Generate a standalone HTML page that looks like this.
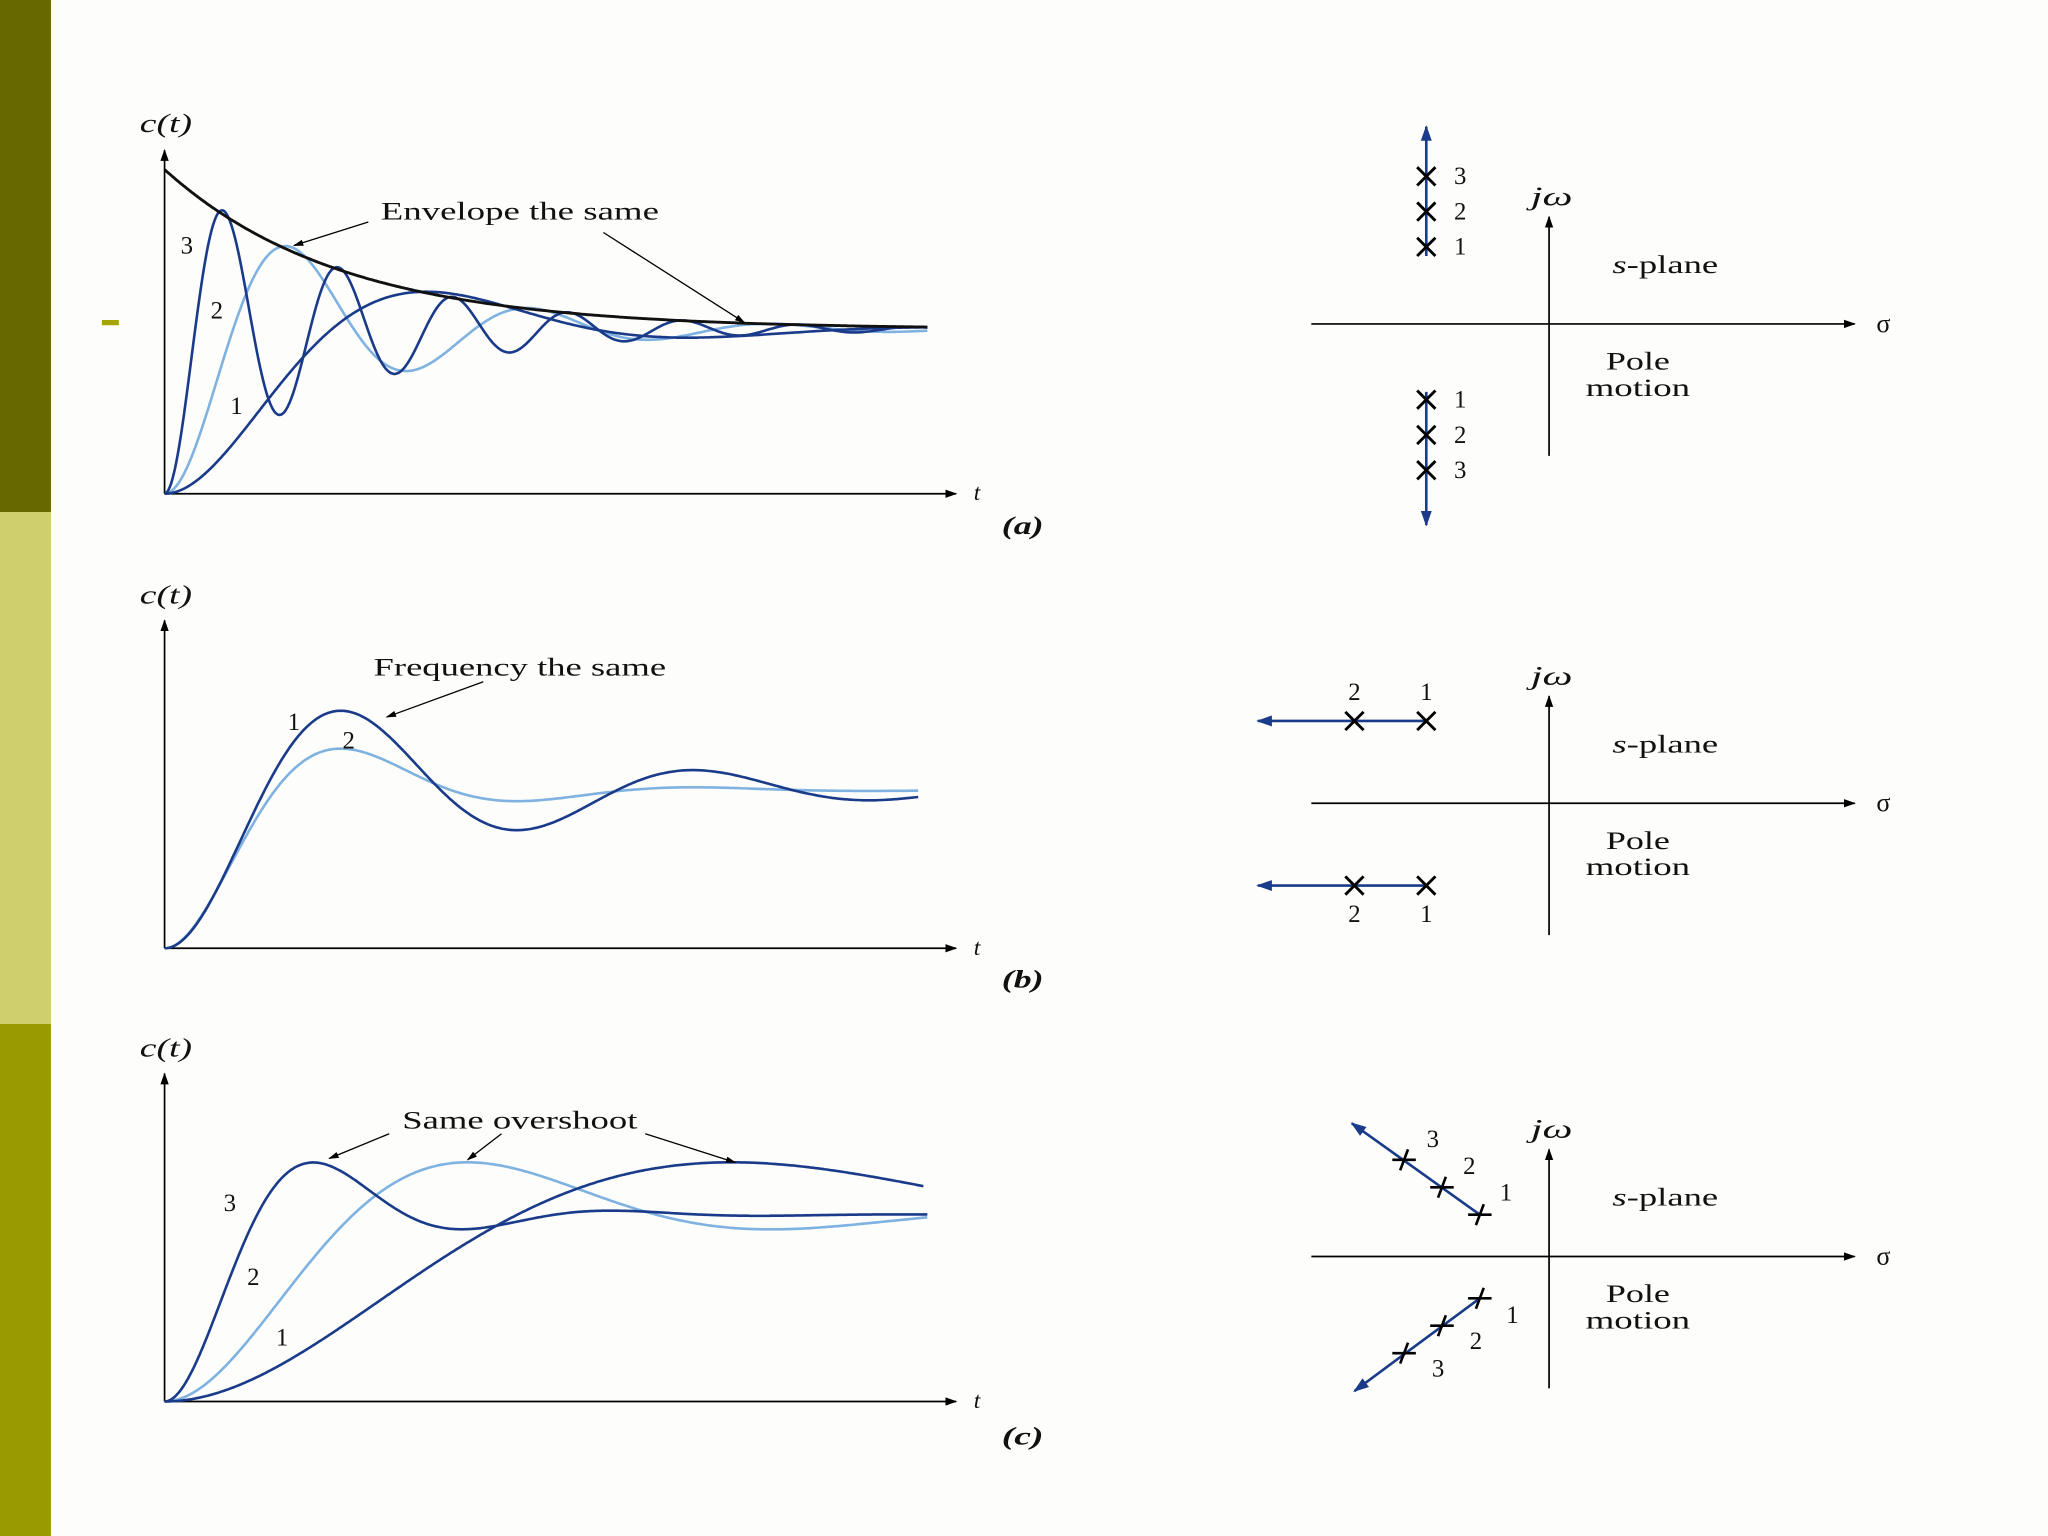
<!DOCTYPE html>
<html><head><meta charset="utf-8"><style>
html,body{margin:0;padding:0;background:#fdfefb;}
svg{display:block;}
text{font-family:"Liberation Serif",serif;fill:#111;}
</style></head><body>
<svg id="s" width="2048" height="1536" viewBox="0 0 1568 1176" xmlns="http://www.w3.org/2000/svg">
<defs>
<marker id="ah" viewBox="0 0 10 10" refX="9" refY="5" markerWidth="7" markerHeight="7" orient="auto-start-reverse"><path d="M0,1.5 L10,5 L0,8.5 z" fill="#000"/></marker>
<marker id="ahb" viewBox="0 0 10 10" refX="9" refY="5" markerWidth="6" markerHeight="7" orient="auto-start-reverse"><path d="M0,1.5 L10,5 L0,8.5 z" fill="#1a3a8a"/></marker>
<marker id="sa" viewBox="0 0 10 10" refX="9" refY="5" markerWidth="8" markerHeight="8" orient="auto"><path d="M0,2 L10,5 L0,8 z" fill="#000"/></marker>
</defs>
<rect x="0" y="0" width="39" height="392" fill="#676900"/>
<rect x="0" y="392" width="39" height="392" fill="#cfd06c"/>
<rect x="0" y="784" width="39" height="392" fill="#999a00"/>
<rect x="78" y="245" width="13" height="4" fill="#a6a500"/>
<g id="g"></g>
</svg>
<script>
// panel parameters (data): sigma (decay/px), omega (rad/px)
const panelASigma=[0.0074,0.0074,0.0074];
const panelAOmega=[0.0157,0.034,0.0714];
const panelBSigma=[0.0051,0.0099];
const panelBOmega=[0.0233,0.0233];
const panelCSigma=[0.00293,0.00548,0.0112];
const panelCOmega=[0.00724,0.01354,0.0276];

const NS="http://www.w3.org/2000/svg";
const G=document.getElementById('g');
function el(tag,attrs,parent){const e=document.createElementNS(NS,tag);for(const k in attrs)e.setAttribute(k,attrs[k]);(parent||G).appendChild(e);return e;}
function txt(x,y,s,size,extra,len){const a=Object.assign({x:x,y:y,'font-size':size||18,'text-anchor':'middle'},extra||{});if(len){a.textLength=len;a.lengthAdjust='spacingAndGlyphs';}const t=el('text',a);t.textContent=s;return t;}
function resp(s,w,t){return 1-Math.exp(-s*t)*(Math.cos(w*t)+(s/w)*Math.sin(w*t));}
function curve(ox,oy,unit,xEnd,s,w,color,wid,name){
  let d="";for(let x=0;x<=xEnd-ox;x+=1){const y=oy-unit*resp(s,w,x);d+=(x?"L":"M")+(ox+x).toFixed(1)+","+y.toFixed(1);}
  const p=el('path',{d:d,fill:'none',stroke:color,'stroke-width':wid});
  
  
}
function axes(ox,oy,top,right,labelY,tag,tagY,name){
  const a=el('path',{d:`M${ox},${oy} L${ox},${top}`,stroke:'#000','stroke-width':1.3,'marker-end':'url(#ah)',fill:'none'});
  
  const b=el('path',{d:`M${ox},${oy} L${right},${oy}`,stroke:'#000','stroke-width':1.3,'marker-end':'url(#ah)',fill:'none'});
  
  const c=txt(127,labelY,"c(t)",20,{'font-style':'italic'},40);
  
  const t=txt(748,oy+5,"t",18,{'font-style':'italic'});
  
  const g=txt(783,tagY,tag,19,{'font-style':'italic','font-weight':'bold'},32);
  
}
function arrow(x1,y1,x2,y2,name){const a=el('line',{x1:x1,y1:y1,x2:x2,y2:y2,stroke:'#000','stroke-width':1,'marker-end':'url(#sa)'});}
function lbl(x,y,s,name,len){const t=txt(x,y,s,19,{},len);}

const DB="#1a3a8a",LB="#7fb2e0";
// Panel a
axes(126,378,115,732,101,"(a)",409,"panel-a");
curve(126,378,126,710,panelASigma[1],panelAOmega[1],LB,2,"curve-a-2");
curve(126,378,126,710,panelASigma[0],panelAOmega[0],DB,2,"curve-a-1");
curve(126,378,126,710,panelASigma[2],panelAOmega[2],DB,2,"curve-a-3");
{let d="";for(let x=0;x<=584;x++){const y=378-126*(1+0.97*Math.exp(-panelASigma[0]*x));d+=(x?"L":"M")+(126+x)+","+y.toFixed(1);}
const e=el('path',{d:d,fill:'none',stroke:'#111','stroke-width':2.2});}
lbl(143,194,"3","label-a-3");lbl(166,244,"2","label-a-2");lbl(181,317,"1","label-a-1");
lbl(398,168,"Envelope the same","annotation-envelope",213);
arrow(282,170,225,188,"envelope-arrow-1");arrow(462,178,570,247,"envelope-arrow-2");

// Panel b
axes(126,726,475,732,462,"(b)",756,"panel-b");
curve(126,726,121,703,panelBSigma[1],panelBOmega[1],LB,2,"curve-b-2");
curve(126,726,121,703,panelBSigma[0],panelBOmega[0],DB,2,"curve-b-1");
lbl(225,559,"1","label-b-1");lbl(267,573,"2","label-b-2");
lbl(398,517,"Frequency the same","annotation-frequency",224);
arrow(370,522,296,549,"frequency-arrow");

// Panel c
axes(126,1073,822,732,809,"(c)",1106,"panel-c");
curve(126,1073,143,710,panelCSigma[1],panelCOmega[1],LB,2,"curve-c-2");
curve(126,1073,143,707,panelCSigma[0],panelCOmega[0],DB,2,"curve-c-1");
curve(126,1073,143,710,panelCSigma[2],panelCOmega[2],DB,2,"curve-c-3");
lbl(176,927,"3","label-c-3");lbl(194,984,"2","label-c-2");lbl(216,1030,"1","label-c-1");
lbl(398,864,"Same overshoot","annotation-overshoot",180);
arrow(298,868,252,887,"overshoot-arrow-3");arrow(384,868,358,888,"overshoot-arrow-2");arrow(494,868,563,890,"overshoot-arrow-1");

// s-planes
function splane(cy,name){
  const a=el('path',{d:`M1004,${cy} L1420,${cy}`,stroke:'#000','stroke-width':1.3,'marker-end':'url(#ah)'});
  const b=el('path',{d:`M1186,${cy+101} L1186,${cy-82}`,stroke:'#000','stroke-width':1.3,'marker-end':'url(#ah)'});
  const s=txt(1442,cy+6,"σ",20);
  const j=txt(1188,cy-91,"jω",20,{'font-style':'italic'},32);
  const p=el('text',{x:1275,y:cy-39,'font-size':19,'text-anchor':'middle',textLength:81,lengthAdjust:'spacingAndGlyphs'});p.innerHTML='<tspan font-style="italic">s</tspan>-plane';
  lbl(1254,cy+35,"Pole",name+'-pole-text',49);lbl(1254,cy+55,"motion",name+'-motion-text',80);
}
function X(x,y,name){const g=el('path',{d:`M${x-7},${y-7}L${x+7},${y+7}M${x+7},${y-7}L${x-7},${y+7}`,stroke:'#000','stroke-width':2.2});}
function bl(x1,y1,x2,y2,name){const l=el('path',{d:`M${x1},${y1}L${x2},${y2}`,stroke:DB,'stroke-width':2,'marker-end':'url(#ahb)'});}
splane(248,"splane-a");
bl(1092,196,1092,97,"pole-path-a-upper");bl(1092,300,1092,402,"pole-path-a-lower");
[135,162,189].forEach((y,i)=>{X(1092,y,"pole-a-upper-"+(3-i));lbl(1118,y+6,String(3-i),"pole-label-a-upper-"+(3-i));});
[306,333,360].forEach((y,i)=>{X(1092,y,"pole-a-lower-"+(i+1));lbl(1118,y+6,String(i+1),"pole-label-a-lower-"+(i+1));});
splane(615,"splane-b");
bl(1092,552,963,552,"pole-path-b-upper");bl(1092,678,963,678,"pole-path-b-lower");
X(1037,552,"pole-b-upper-2");X(1092,552,"pole-b-upper-1");X(1037,678,"pole-b-lower-2");X(1092,678,"pole-b-lower-1");
lbl(1037,536,"2","pole-label-b-u2");lbl(1092,536,"1","pole-label-b-u1");lbl(1037,706,"2","pole-label-b-l2");lbl(1092,706,"1","pole-label-b-l1");
splane(962,"splane-c");
bl(1133,930,1035,860,"pole-path-c-upper");bl(1133,994,1037,1065,"pole-path-c-lower");
function P(x,y,name){const g=el('path',{d:`M${x-9},${y}L${x+9},${y}M${x+3},${y-8}L${x-3},${y+8}`,stroke:'#000','stroke-width':2});}
[[1133,930],[1104,909],[1075,888]].forEach((p,i)=>P(p[0],p[1],"pole-c-upper-"+(i+1)));
[[1133,994],[1104,1015],[1075,1036]].forEach((p,i)=>P(p[0],p[1],"pole-c-lower-"+(i+1)));
lbl(1153,919,"1","pole-label-c-u1");lbl(1125,899,"2","pole-label-c-u2");lbl(1097,878,"3","pole-label-c-u3");
lbl(1158,1013,"1","pole-label-c-l1");lbl(1130,1033,"2","pole-label-c-l2");lbl(1101,1054,"3","pole-label-c-l3");
</script>
</body></html>
